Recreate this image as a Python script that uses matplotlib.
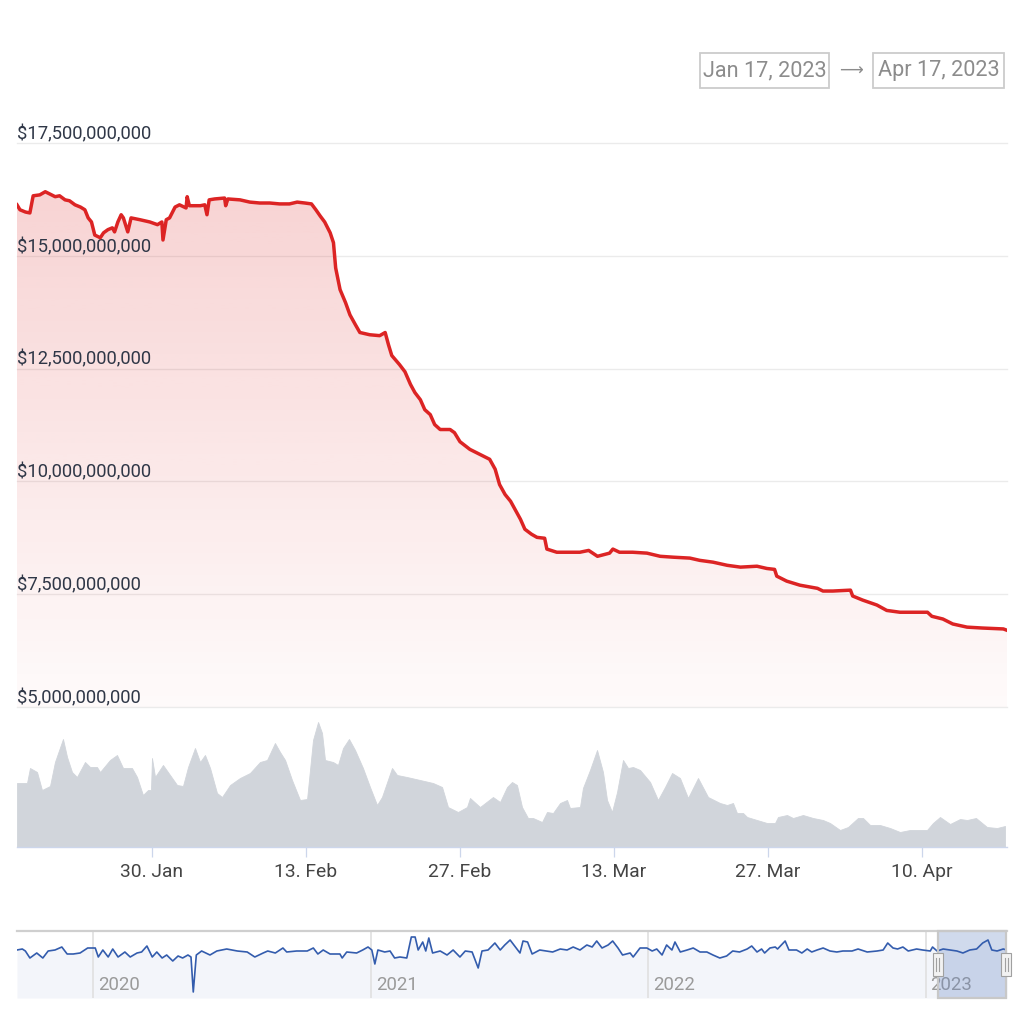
import numpy as np
import pandas as pd
import matplotlib
matplotlib.use('Agg')
import matplotlib.pyplot as plt
import matplotlib.dates as mdates
from matplotlib.patches import Rectangle, PathPatch
from matplotlib.lines import Line2D

plt.rcParams['font.family'] = ['Roboto', 'DejaVu Sans']

# ---------------- data ----------------
START = pd.Timestamp('2023-01-17')

# market cap (billions USD); time as day offsets from START
mcap_days = [0.73, 1.0, 1.5, 1.9, 2.2, 2.8, 3.3, 3.7, 4.2, 4.6,
             5.1, 5.5, 6.0, 6.5, 6.9, 7.2, 7.5, 7.8, 8.3, 8.6,
             9.0, 9.4, 9.6, 9.9, 10.2, 10.4, 10.8, 11.1, 11.9, 12.8,
             13.5, 13.9, 14.0, 14.3, 14.6, 15.1, 15.5, 16.1, 16.2, 16.4,
             17.4, 17.8, 18.0, 18.2, 18.7, 19.6, 19.7, 19.9, 21.0, 21.9,
             22.8, 23.7, 24.6, 25.5, 26.2, 26.9, 27.5, 27.9, 28.3, 28.7,
             29.2, 29.5, 29.7, 30.1, 30.6, 31.0, 31.5, 31.9, 32.8, 33.7,
             34.2, 34.5, 34.8, 35.5, 36.0, 36.5, 36.9, 37.4, 37.8, 38.3,
             38.7, 39.2, 40.1, 40.5, 41.0, 41.9, 42.8, 43.7, 44.2, 44.6,
             45.1, 45.6, 46.0, 46.5, 46.9, 47.5, 48.0, 48.7, 48.9, 49.8,
             51.9, 52.7, 53.5, 54.6, 54.9, 55.5, 56.7, 58.0, 59.2, 60.4,
             61.9, 62.8, 64.0, 65.3, 66.5, 68.0, 68.9, 69.6, 69.8, 70.7,
             71.9, 73.5, 74.0, 74.9, 76.5, 76.7, 77.6, 78.9, 79.8, 81.0,
             83.5, 83.9, 84.9, 85.8, 87.1, 88.5, 90.4, 90.73]
mcap_bn = [16.13, 16.02, 15.97, 15.95, 16.33, 16.35, 16.42, 16.37, 16.31, 16.33,
           16.24, 16.22, 16.13, 16.08, 16.02, 15.84, 15.75, 15.46, 15.40, 15.51,
           15.58, 15.62, 15.53, 15.75, 15.91, 15.84, 15.53, 15.84, 15.80, 15.75,
           15.69, 15.75, 15.35, 15.80, 15.84, 16.08, 16.13, 16.06, 16.31, 16.11,
           16.11, 16.13, 15.91, 16.24, 16.26, 16.28, 16.11, 16.26, 16.24, 16.19,
           16.17, 16.17, 16.15, 16.15, 16.19, 16.17, 16.15, 16.02, 15.88, 15.75,
           15.51, 15.29, 14.73, 14.25, 13.96, 13.69, 13.47, 13.30, 13.25, 13.23,
           13.30, 13.03, 12.79, 12.59, 12.43, 12.15, 11.97, 11.81, 11.59, 11.48,
           11.26, 11.15, 11.15, 11.08, 10.88, 10.71, 10.60, 10.49, 10.27, 9.93,
           9.71, 9.56, 9.38, 9.16, 8.94, 8.83, 8.76, 8.74, 8.50, 8.43,
           8.43, 8.47, 8.34, 8.41, 8.50, 8.43, 8.43, 8.41, 8.34, 8.32,
           8.30, 8.25, 8.21, 8.14, 8.10, 8.12, 8.07, 8.05, 7.90, 7.79,
           7.70, 7.63, 7.57, 7.57, 7.59, 7.46, 7.37, 7.26, 7.14, 7.10,
           7.10, 7.01, 6.95, 6.84, 6.77, 6.75, 6.73, 6.70]

# trading volume (relative units)
vol_days = [0.73, 1.64, 1.91, 2.55, 3.0, 3.73, 4.18, 4.91, 5.28, 5.73,
            6.18, 6.91, 7.37, 8.0, 8.28, 9.18, 9.82, 10.37, 11.18, 11.64,
            12.18, 12.64, 12.91, 13.0, 13.28, 14.0, 14.64, 15.28, 15.82, 16.28,
            16.91, 17.37, 17.82, 18.28, 18.91, 19.37, 20.1, 21.0, 21.91, 22.82,
            23.46, 24.18, 24.64, 25.1, 25.73, 26.46, 27.1, 27.64, 28.1, 28.46,
            28.73, 29.46, 29.91, 30.37, 30.91, 31.46, 32.18, 32.82, 33.46, 33.91,
            34.82, 35.28, 36.18, 37.37, 38.55, 39.37, 39.91, 40.82, 41.64, 41.91,
            42.82, 44.0, 44.64, 45.28, 45.73, 46.18, 46.64, 47.18, 47.64, 48.46,
            48.91, 49.46, 50.1, 50.73, 51.0, 51.91, 52.18, 52.82, 53.46, 54.0,
            54.37, 54.82, 55.28, 55.82, 56.28, 56.73, 57.37, 58.28, 59.0, 59.64,
            60.28, 61.0, 61.73, 62.64, 63.55, 64.64, 65.28, 65.82, 66.18, 66.73,
            67.1, 68.0, 68.91, 69.64, 69.91, 70.73, 71.28, 72.18, 73.1, 74.0,
            74.64, 75.55, 76.28, 77.18, 77.64, 78.28, 79.18, 80.1, 81.0, 81.91,
            83.46, 84.0, 84.64, 85.55, 86.46, 87.1, 87.91, 88.91, 89.82, 90.55]
vol_rel = [64, 64, 79, 75, 57, 61, 85, 108, 90, 75,
           70, 85, 80, 80, 75, 87, 92, 79, 79, 70,
           52, 57, 57, 89, 70, 82, 72, 62, 61, 80,
           99, 85, 92, 79, 54, 50, 62, 69, 74, 85,
           87, 104, 95, 87, 67, 47, 48, 107, 125, 114,
           87, 85, 82, 99, 108, 97, 79, 60, 42, 50,
           79, 72, 70, 67, 64, 60, 40, 35, 40, 49,
           40, 50, 45, 60, 65, 62, 40, 29, 29, 25,
           35, 34, 44, 47, 39, 40, 59, 77, 97, 75,
           47, 35, 55, 87, 79, 80, 77, 65, 47, 60,
           74, 69, 49, 69, 50, 44, 42, 44, 34, 34,
           30, 27, 24, 24, 30, 32, 29, 32, 29, 27,
           24, 17, 20, 29, 29, 22, 22, 19, 15, 17,
           17, 24, 30, 23, 28, 27, 29, 20, 19, 21]

# navigator series (price), days from NAV_START
NAV_START = pd.Timestamp('2019-09-23')
nav_days = [0, 7, 11, 17, 26, 34, 41, 50, 59, 66, 74, 83, 93, 103, 107, 113, 120, 126, 133, 142,
            149, 158, 164, 171, 178, 184, 191, 197, 205, 212, 218, 225, 229, 232, 236, 243, 254, 263, 276, 290,
            303, 313, 324, 330, 340, 350, 355, 368, 382, 390, 396, 403, 412, 425, 428, 434, 447, 455, 462, 467,
            471, 475, 484, 491, 497, 504, 513, 519, 524, 528, 534, 538, 542, 547, 557, 566, 574, 583, 590, 599,
            607, 612, 620, 629, 636, 642, 649, 655, 662, 666, 672, 678, 688, 697, 705, 715, 724, 732, 741, 750,
            757, 763, 770, 778, 784, 791, 797, 807, 811, 820, 829, 836, 842, 849, 855, 862, 866, 873, 882, 890,
            899, 908, 916, 925, 934, 942, 951, 961, 967, 974, 980, 984, 991, 998, 1001, 1011, 1016, 1026, 1033, 1040,
            1046, 1053, 1061, 1070, 1079, 1087, 1099, 1107, 1119, 1132, 1140, 1146, 1153, 1159, 1166, 1173, 1184, 1192, 1202, 1205,
            1211, 1219, 1228, 1237, 1245, 1254, 1263, 1271, 1278, 1283, 1290, 1298, 1303]
nav_price = [1.000, 1.001, 0.999, 0.992, 0.997, 0.992, 0.999, 1.000, 1.003, 0.996, 0.996, 0.997, 1.002, 1.002, 0.993, 1.000, 0.993, 1.001, 0.993, 0.998,
             0.993, 0.997, 0.998, 1.004, 0.993, 0.998, 0.992, 0.995, 0.989, 0.994, 0.992, 0.995, 0.993, 0.958, 0.995, 0.999, 0.995, 0.999, 1.001, 0.999,
             0.998, 0.993, 0.997, 0.999, 0.997, 1.002, 0.998, 0.999, 0.999, 1.002, 0.996, 1.000, 0.996, 0.996, 0.992, 0.998, 0.997, 1.000, 1.003, 1.000,
             0.986, 1.000, 0.998, 0.999, 0.992, 0.993, 0.992, 1.013, 1.013, 1.000, 1.008, 0.999, 1.012, 0.997, 0.999, 0.995, 1.000, 0.993, 0.999, 0.998,
             0.982, 0.999, 1.000, 1.007, 1.000, 1.005, 1.010, 1.004, 0.997, 1.009, 1.008, 0.996, 1.000, 0.999, 0.998, 1.001, 1.000, 1.003, 1.000, 1.005,
             1.003, 1.009, 1.002, 1.005, 1.009, 1.002, 0.995, 0.997, 0.993, 1.002, 1.002, 0.999, 1.001, 0.995, 1.005, 1.000, 1.008, 0.998, 1.000, 1.002,
             0.998, 0.998, 0.995, 0.992, 0.994, 0.999, 0.998, 1.001, 1.004, 0.998, 1.001, 0.997, 1.002, 1.003, 1.001, 1.009, 1.000, 1.000, 0.997, 1.001,
             0.998, 1.000, 1.002, 0.999, 0.998, 0.999, 0.999, 1.001, 0.998, 0.999, 1.000, 1.007, 1.002, 1.001, 1.003, 0.999, 1.001, 1.000, 0.999, 1.003,
             0.999, 1.001, 1.000, 0.999, 0.997, 1.000, 1.001, 1.007, 1.010, 1.000, 0.999, 1.001, 1.000]

ytick_vals = [5.0, 7.5, 10.0, 12.5, 15.0, 17.5]
ytick_labels = ['$5,000,000,000', '$7,500,000,000', '$10,000,000,000',
                '$12,500,000,000', '$15,000,000,000', '$17,500,000,000']
xtick_dates = ['2023-01-30', '2023-02-13', '2023-02-27', '2023-03-13', '2023-03-27', '2023-04-10']
xtick_labels = ['30. Jan', '13. Feb', '27. Feb', '13. Mar', '27. Mar', '10. Apr']
year_dates = ['2020-01-01', '2021-01-01', '2022-01-01', '2023-01-01']
year_labels = ['2020', '2021', '2022', '2023']
range_from, range_to = 'Jan 17, 2023', 'Apr 17, 2023'
sel_start, sel_end = '2023-01-17', '2023-04-17'

# ---------------- helpers ----------------
def to_num(base, days):
    return mdates.date2num((base + pd.to_timedelta(np.asarray(days, dtype=float), unit='D')).to_pydatetime())

W = H = 1024
def frect(l, t, r, b):
    return [l / W, 1 - b / H, (r - l) / W, (b - t) / H]

fig = plt.figure(figsize=(10.24, 10.24), dpi=100)
fig.patch.set_facecolor('white')

ax = fig.add_axes(frect(17, 143, 1007, 707))
axv = fig.add_axes(frect(17, 707, 1007, 847))
axn = fig.add_axes(frect(17, 931, 1007, 998))

xm = to_num(START, mcap_days)
xv = to_num(START, vol_days)
x0, x1 = to_num(START, [0.73, 90.73])

# ---------------- main chart ----------------
for a in (ax, axv, axn):
    a.set_facecolor('none')
    for s in a.spines.values():
        s.set_visible(False)

YMIN, YMAX = 5.0, 17.5
poly = ax.fill_between(xm, mcap_bn, YMIN, color='none', lw=0)
alpha = np.linspace(0.22, 0.02, 256)
grad = np.zeros((256, 1, 4))
grad[..., 0] = 220 / 255
grad[..., 1] = 38 / 255
grad[..., 2] = 38 / 255
grad[:, 0, 3] = alpha
im = ax.imshow(grad, extent=[x0, x1, YMIN, YMAX], aspect='auto', origin='upper',
               zorder=1, interpolation='bilinear')
clip = PathPatch(poly.get_paths()[0], transform=ax.transData, facecolor='none', edgecolor='none')
ax.add_patch(clip)
im.set_clip_path(clip)

for v, lab in zip(ytick_vals, ytick_labels):
    ax.axhline(v, color='#ebebeb', lw=1.0, zorder=0.5, clip_on=False)
    ax.annotate(lab, xy=(0, v), xycoords=('axes fraction', 'data'),
                xytext=(0, 6.4), textcoords='offset points', ha='left', va='center',
                fontsize=13.2, color='#2f3747', annotation_clip=False, zorder=3)

ax.plot(xm, mcap_bn, color='#dc2424', lw=2.5, zorder=4, solid_joinstyle='round')
ax.set_xlim(x0, x1)
ax.set_ylim(YMIN, YMAX)
ax.set_xticks([])
ax.set_yticks([])

# ---------------- volume ----------------
axv.fill_between(xv, vol_rel, 0, color='#d1d5db', lw=0.6, edgecolor='#d1d5db')
axv.set_xlim(x0, x1)
axv.set_ylim(0, 140)
axv.spines['bottom'].set_visible(True)
axv.spines['bottom'].set_color('#ccd6eb')
axv.spines['bottom'].set_linewidth(1.0)
axv.set_yticks([])
axv.set_xticks(mdates.date2num(pd.to_datetime(xtick_dates).to_pydatetime()))
axv.set_xticklabels(xtick_labels)
axv.tick_params(axis='x', direction='out', length=7.2, width=0.9, color='#ccd6eb',
                labelsize=13.9, labelcolor='#444444', pad=4.5)

# ---------------- navigator ----------------
xn = to_num(NAV_START, nav_days)
nx0, nx1 = to_num(NAV_START, [0, 1303])
NMIN, NMAX = 0.952, 1.019
axn.fill_between(xn, nav_price, NMIN, color='#f3f5fa', lw=0, zorder=1)
yd = mdates.date2num(pd.to_datetime(year_dates).to_pydatetime())
for d, lab in zip(yd, year_labels):
    axn.axvline(d, color='#e2e2e2', lw=1.3, zorder=1.5)
    axn.annotate(lab, xy=(d, 0.19), xycoords=('data', 'axes fraction'),
                 xytext=(3.5, 0), textcoords='offset points', ha='left', va='center',
                 fontsize=13.4, color='#9a9a9a', zorder=2)
s0, s1 = mdates.date2num(pd.to_datetime([sel_start, sel_end]).to_pydatetime())
axn.add_patch(Rectangle((s0, NMIN), s1 - s0, NMAX - NMIN, facecolor=(102/255, 133/255, 194/255, 0.3),
                        edgecolor='none', zorder=2.5))
axn.plot(xn, nav_price, color='#335cad', lw=1.2, zorder=3)
axn.add_patch(Rectangle((s0, NMIN), s1 - s0, NMAX - NMIN, facecolor='none',
                        edgecolor='#c8c8c8', lw=1.6, zorder=3.5, clip_on=False))
axn.axhline(NMAX, color='#cfcfcf', lw=1.6, zorder=3.4, clip_on=False)
axn.set_xlim(nx0, nx1)
axn.set_ylim(NMIN, NMAX)
axn.set_xticks([])
axn.set_yticks([])

# handles
fig.canvas.draw()
for sd in (s0, s1):
    px = axn.transData.transform((sd, NMIN))[0]
    hw, top, bot = 9.5, 953, 976
    fig.patches.append(Rectangle(((px - hw / 2) / W, 1 - bot / H), hw / W, (bot - top) / H,
                                 transform=fig.transFigure, facecolor='#f2f2f2',
                                 edgecolor='#a0a0a0', lw=0.8, zorder=10))
    for dx in (-1.6, 1.6):
        fig.lines.append(Line2D([(px + dx) / W] * 2, [1 - 971 / H, 1 - 958 / H],
                                transform=fig.transFigure, color='#a0a0a0', lw=0.8, zorder=11))

# ---------------- range selector boxes ----------------
for (l, r), txt in zip([(700, 829), (873, 1004)], [range_from, range_to]):
    fig.patches.append(Rectangle((l / W, 1 - 88 / H), (r - l) / W, 35 / H,
                                 transform=fig.transFigure, facecolor='white',
                                 edgecolor='#cccccc', lw=1.3))
    fig.text((l + r) / 2 / W, 1 - 70.5 / H, txt, ha='center', va='center',
             fontsize=15.6, color='#8c8c8c')
fig.text(851 / W, 1 - 71 / H, '\u27f6', ha='center', va='center', fontsize=12,
         color='#8c8c8c', family=['DejaVu Sans'])

fig.savefig('out.png', dpi=100, facecolor='white')
